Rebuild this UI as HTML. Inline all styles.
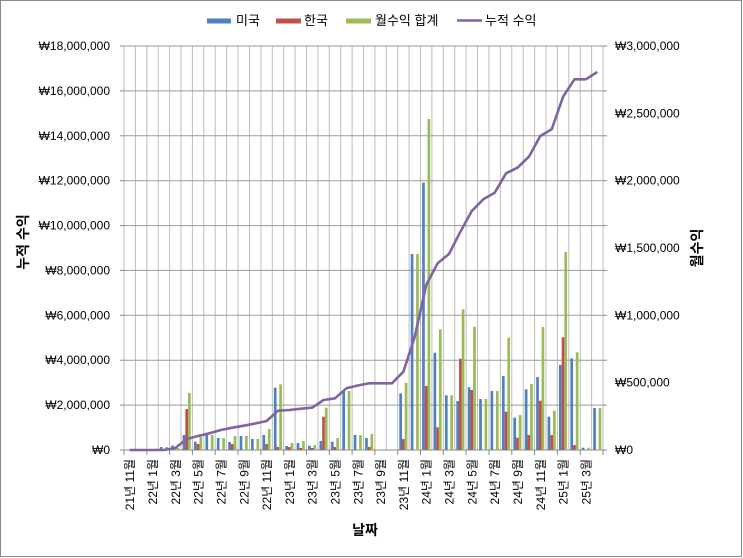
<!DOCTYPE html>
<html><head><meta charset="utf-8"><style>
html,body{margin:0;padding:0;background:#fff}
svg{display:block}
text{font-family:"Liberation Sans","Noto Sans CJK KR",sans-serif;fill:#000}
</style></head><body>
<svg id="s" width="743" height="558" xmlns="http://www.w3.org/2000/svg">
<rect x="0.5" y="0.5" width="741" height="556" fill="#fff" stroke="#8a8a8a"/>
<g id="grid"></g>
<g id="bars"></g>
<polyline id="ln" fill="none" stroke="#8064a2" stroke-width="2.6" stroke-linejoin="round"/>
<g id="lab" font-size="12"></g>
<g font-size="13">
<rect x="207" y="18.5" width="24" height="5" fill="#4f81bd"/><text x="236" y="25">미국</text>
<rect x="276" y="18.5" width="25" height="5" fill="#c0504d"/><text x="304" y="25">한국</text>
<rect x="346" y="18.5" width="25" height="5" fill="#9bbb59"/><text x="375" y="25">월수익 합계</text>
<line x1="457" y1="20.5" x2="482" y2="20.5" stroke="#8064a2" stroke-width="2.5"/><text x="485" y="25">누적 수익</text>
</g>
<text transform="translate(28,242) rotate(-90)" text-anchor="middle" font-size="14" font-weight="bold">누적 수익</text>
<text transform="translate(702,248) rotate(-90)" text-anchor="middle" font-size="14" font-weight="bold">월수익</text>
<text x="365" y="535" text-anchor="middle" font-size="14" font-weight="bold">날짜</text>
</svg>
<script>
var L=124,R=603,T=46,B=450,N=42,w=(R-L)/N;
var g=document.getElementById('grid'),h='';
for(var i=0;i<=N;i++){var x=(L+i*w).toFixed(1);h+='<line x1="'+x+'" y1="'+T+'" x2="'+x+'" y2="'+B+'" stroke="#bdbdbd" stroke-width="1"/>';}
for(var k=0;k<=9;k++){var y=(B-k*(B-T)/9).toFixed(1);h+='<line x1="'+L+'" y1="'+y+'" x2="'+R+'" y2="'+y+'" stroke="#9a9a9a" stroke-width="1"/>';
h+='<line x1="'+(L-4)+'" y1="'+y+'" x2="'+L+'" y2="'+y+'" stroke="#888"/><line x1="'+R+'" y1="'+y+'" x2="'+(R+4)+'" y2="'+y+'" stroke="#888"/>';}
for(var i=0;i<=N;i+=2){var x=(L+i*w).toFixed(1);h+='<line x1="'+x+'" y1="'+B+'" x2="'+x+'" y2="'+(B+5)+'" stroke="#888"/>';}
h+='<line x1="'+L+'" y1="'+B+'" x2="'+R+'" y2="'+B+'" stroke="#888"/>';
g.innerHTML=h;
// bar tops [blue, red, green]
var d={3:[447,0,447],4:[445.5,0,448],5:[435,409,393],6:[441.7,444,437],7:[435,0,435],8:[438,0,438],9:[442,444,436],10:[436,0,436],11:[439,0,439],12:[435,444,429],13:[387.7,447,384.3],14:[446,447,443],15:[443,448,441],16:[445.7,448,445],17:[441,416.7,407.7],18:[441.7,447,438],19:[391,0,391],20:[435,0,435],21:[438,447,434],24:[393.3,439,382.7],25:[254,0,254],26:[182.7,386,119],27:[352.7,427.3,329.3],28:[395.3,0,395.3],29:[401,358.7,309.3],30:[387.3,390,326.7],31:[399,0,399],32:[391,0,391],33:[376,411.7,337.7],34:[417.7,437.7,415],35:[389.3,435,384],36:[377,400.7,327],37:[416.7,435,410.7],38:[365,337.3,252],39:[358.3,445,352.3],40:[447.7,0,447.7],41:[408,0,408]};
var cols=['#4f81bd','#c0504d','#9bbb59'],bh='';
for(var i in d){var c=L+w*(+i+0.5);for(var j=0;j<3;j++){var t=d[i][j];if(!t)continue;bh+='<rect x="'+(c-4.1+j*2.7).toFixed(2)+'" y="'+t+'" width="2.7" height="'+(B-t).toFixed(1)+'" fill="'+cols[j]+'"/>';}}
document.getElementById('bars').innerHTML=bh;
var ly=[450,450,450,450,448,439,436,433.3,430,427.7,425.7,423.5,421,410.7,410,408.7,407.7,400,398.3,388.3,385.5,383.3,383.3,383.3,371.7,336.7,285,263.3,254,231.7,211,199.3,192.7,173.3,167.7,156.7,136,129.3,96.7,79.3,79.3,72];
var p=[];for(var i=0;i<N;i++)p.push((L+w*(i+0.5)).toFixed(1)+','+ly[i]);
document.getElementById('ln').setAttribute('points',p.join(' '));
var lb='';
function fmt(n){return '₩'+n.toString().replace(/\B(?=(\d{3})+(?!\d))/g,',');}
for(var k=0;k<=9;k++){var y=B-k*(B-T)/9+4;lb+='<text x="110" y="'+y.toFixed(1)+'" text-anchor="end">'+fmt(k*2000000)+'</text>';}
for(var k=0;k<=6;k++){var y=B-k*(B-T)/6+4;lb+='<text x="615" y="'+y.toFixed(1)+'">'+fmt(k*500000)+'</text>';}
var m=11,yr=21;
for(var i=0;i<N;i++){if(i%2==0){var x=L+w*(i+0.5)+4.5;lb+='<text transform="translate('+x.toFixed(1)+',459) rotate(-90)" text-anchor="end">'+yr+'년 '+m+'월</text>';}
m++;if(m>12){m=1;yr++;}}
document.getElementById('lab').innerHTML=lb;
</script>
</body></html>
